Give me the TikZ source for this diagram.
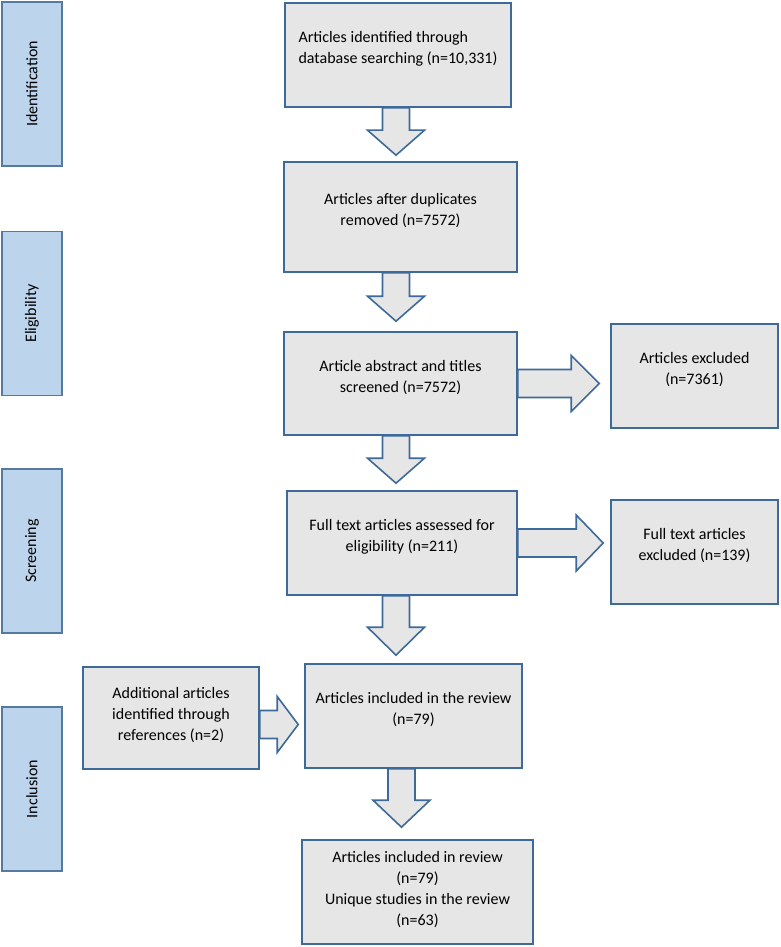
\documentclass[tikz,border=0pt]{standalone}
\usepackage{fontspec}
\setmainfont{Carlito}
\usetikzlibrary{calc}
\definecolor{edge}{HTML}{3D6A99}
\definecolor{boxgray}{HTML}{E7E6E6}
\definecolor{phaseblue}{HTML}{BCD4EC}
\definecolor{phaseedge}{HTML}{55799F}
\newcommand\blkdown[3]{%
  \draw[blk] let \p1=(#1), \p2=(#2) in
   (\x2-13.5pt,\y1) -- (\x2-13.5pt,\y2+#3) -- (\x2-28.5pt,\y2+#3) -- (\x2,\y2)
   -- (\x2+28.5pt,\y2+#3) -- (\x2+13.5pt,\y2+#3) -- (\x2+13.5pt,\y1) -- cycle;}
\newcommand\blkright[3]{%
  \draw[blk] let \p1=(#1), \p2=(#2) in
   (\x1,\y2+14pt) -- (\x2-#3,\y2+14pt) -- (\x2-#3,\y2+28pt) -- (\x2,\y2)
   -- (\x2-#3,\y2-28pt) -- (\x2-#3,\y2-14pt) -- (\x1,\y2-14pt) -- cycle;}
\begin{document}
\begin{tikzpicture}[x=1pt,y=-1pt,
  txt/.style={font=\fontsize{16}{21}\selectfont},
  box/.style={txt, draw=edge, fill=boxgray, line width=1.6pt, inner xsep=6pt,
    inner ysep=0pt, align=center, text depth=15pt},
  phase/.style={txt, draw=phaseedge, fill=phaseblue, line width=1.6pt, rotate=90,
    minimum width=164pt, minimum height=60pt, inner sep=0pt},
  blk/.style={draw=edge, fill=boxgray, line width=1.6pt, line join=miter}]
\useasboundingbox (0,0) rectangle (780,947);

% phase labels
\node[phase] (ident)  at (32,84)    {Identification};
\node[phase] (elig)   at (32,313.5) {Eligibility};
\node[phase] (screen) at (32,551)   {Screening};
\node[phase] (incl)   at (32,789)   {Inclusion};

% boxes
\node[box, align=left, minimum width=226pt, minimum height=104pt] (b1) at (398,55)
  {Articles identified through\\database searching (n=10,331)};
\node[box, minimum width=233pt, minimum height=110pt] (b2) at (400.5,217)
  {Articles after duplicates\\removed (n=7572)};
\node[box, minimum width=233pt, minimum height=103pt] (b3) at (400.5,383.5)
  {Article abstract and titles\\screened (n=7572)};
\node[box, minimum width=167pt, minimum height=104pt] (ex1) at (694.5,376)
  {Articles excluded\\(n=7361)};
\node[box, minimum width=230pt, minimum height=104pt] (b4) at (402,543)
  {Full text articles assessed for\\eligibility (n=211)};
\node[box, minimum width=167pt, minimum height=104pt] (ex2) at (694.5,552)
  {Full text articles\\excluded (n=139)};
\node[box, minimum width=176pt, minimum height=102pt, text depth=9pt] (add) at (171,718)
  {Additional articles\\identified through\\references (n=2)};
\node[box, minimum width=217pt, minimum height=104pt] (rev) at (413.5,716)
  {Articles included in the review\\(n=79)};
\node[box, minimum width=231pt, minimum height=104pt, text depth=7pt] (fin) at (417.5,892)
  {Articles included in review\\(n=79)\\Unique studies in the review\\(n=63)};

% arrow axes
\coordinate (axis) at (396,0);
\coordinate (axisb) at (401.5,0);

% downward block arrows
\blkdown{b1.south -| axis}{$(b2.north -| axis)+(0,-6)$}{25pt}
\blkdown{b2.south -| axis}{$(b3.north -| axis)+(0,-10)$}{25pt}
\blkdown{b3.south -| axis}{$(b4.north -| axis)+(0,-7)$}{25pt}
\blkdown{b4.south -| axis}{$(rev.north -| axis)+(0,-8)$}{28pt}
\blkdown{rev.south -| axisb}{$(fin.north -| axisb)+(0,-12)$}{27pt}

% rightward block arrows
\blkright{b3.east}{$(ex1.west |- b3.east)+(-11,0)$}{28pt}
\blkright{b4.east}{$(ex2.west |- b4.east)+(-7,0)$}{27pt}
\blkright{add.east}{$(rev.west |- add.east)+(-6,6.5)$}{21pt}
\end{tikzpicture}
\end{document}
